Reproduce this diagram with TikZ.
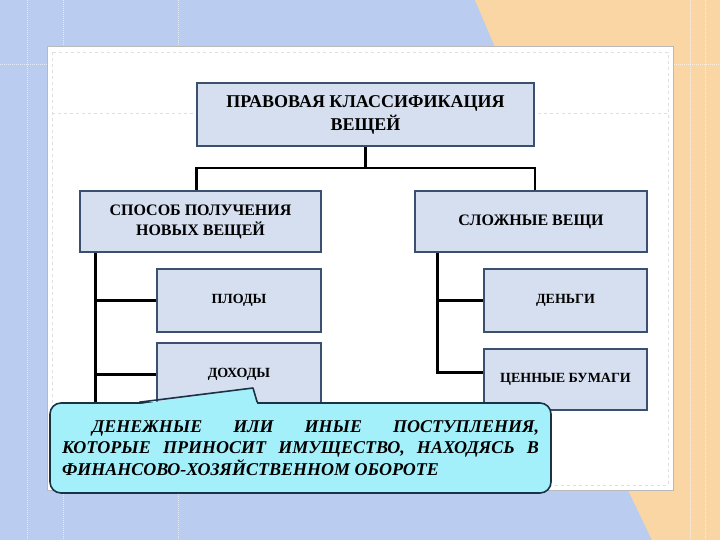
\documentclass[tikz,border=0pt]{standalone}
\usepackage{fontspec}
\setmainfont{Liberation Serif}
\definecolor{bgblue}{RGB}{186,205,240}
\definecolor{bgorange}{RGB}{250,214,164}
\definecolor{boxfill}{RGB}{214,223,240}
\definecolor{boxline}{RGB}{59,79,110}
\definecolor{notefill}{RGB}{164,240,250}
\definecolor{noteline}{RGB}{25,50,70}
\tikzset{
  cls/.style={draw=boxline, fill=boxfill, line width=1.6pt, align=center,
    font=\bfseries\fontsize{16}{20}\selectfont, inner sep=0pt},
  sub/.style={cls, font=\bfseries\fontsize{14}{16}\selectfont},
  link/.style={line width=2.6pt, black},
}
\begin{document}
\begin{tikzpicture}[x=1pt, y=-1pt]
  \useasboundingbox (0,0) rectangle (720,540);
  % Background
  \fill[bgblue] (0,0) rectangle (720,540);
  \fill[bgorange] (475,0) -- (720,0) -- (720,540) -- (652,540) -- (628,490) -- (495,47) -- cycle;
  \foreach \x in {27,63,178} \draw[white, opacity=0.6, densely dotted, line width=1pt] (\x,0) -- (\x,540);
  \foreach \x in {690,705} \draw[white, opacity=0.6, densely dotted, line width=1pt] (\x,0) -- (\x,540);
  \draw[white, opacity=0.6, densely dotted, line width=1pt] (0,65) -- (720,65);
  % Panel
  \filldraw[fill=white, draw=gray!55, line width=1pt] (47,47) rectangle (673,490);
  \draw[gray!25, dashed] (52,52) rectangle (668,485);
  \draw[gray!25, dashed] (52,113) -- (668,113);
  % Boxes
  \node[cls, minimum width=337, minimum height=63, font=\bfseries\fontsize{18}{23}\selectfont]
    (title) at (365.5,114.5) {ПРАВОВАЯ КЛАССИФИКАЦИЯ\\ВЕЩЕЙ};
  \node[cls, minimum width=241, minimum height=61] (way) at (200.5,221.5)
    {СПОСОБ ПОЛУЧЕНИЯ\\НОВЫХ ВЕЩЕЙ};
  \node[cls, minimum width=232, minimum height=61] (complex) at (531,221.5)
    {СЛОЖНЫЕ ВЕЩИ};
  \node[sub, minimum width=164, minimum height=63] (fruits) at (239,300.5) {ПЛОДЫ};
  \node[sub, minimum width=164, minimum height=63] (income) at (239,374.5) {ДОХОДЫ};
  \node[sub, minimum width=163, minimum height=63] (money) at (565.5,300.5) {ДЕНЬГИ};
  \node[sub, minimum width=163, minimum height=61] (papers) at (565.5,379.5) {ЦЕННЫЕ БУМАГИ};
  % Links
  \coordinate (bus) at (0,168);
  \coordinate (lsp) at ([xshift=16pt]way.south west);
  \coordinate (rsp) at ([xshift=23pt]complex.south west);
  \coordinate (lend) at (96,420);
  \draw[link] (title.south) -- (title.south |- bus);
  \draw[link] (title.west |- way.north) -- (title.west |- bus) -- (title.east |- bus) -- (title.east |- complex.north);
  \draw[link] (lsp) -- (lsp |- lend);
  \draw[link] (lsp |- fruits.west) -- (fruits.west);
  \draw[link] (lsp |- income.west) -- (income.west);
  \draw[link] (rsp) |- ([yshift=7pt]papers.west);
  \draw[link] (rsp |- money.west) -- (money.west);
  % Callout
  \node[draw=noteline, fill=notefill, line width=1.6pt, rounded corners=11pt,
    minimum width=501, minimum height=90, text width=477, inner xsep=12pt,
    align=justify, font=\bfseries\itshape\fontsize{18}{21.5}\selectfont] (note) at (300.5,448)
    {\hspace*{30pt}ДЕНЕЖНЫЕ ИЛИ ИНЫЕ ПОСТУПЛЕНИЯ,\linebreak
     КОТОРЫЕ ПРИНОСИТ ИМУЩЕСТВО, НАХОДЯСЬ В\linebreak
     ФИНАНСОВО-ХОЗЯЙСТВЕННОМ ОБОРОТЕ};
  \coordinate (tip) at (253,388);
  \fill[notefill] ([xshift=90pt, yshift=-2pt]note.north west) -- (tip) -- ([xshift=208pt, yshift=-2pt]note.north west) -- cycle;
  \draw[noteline, line width=1.6pt, line join=round] ([xshift=90pt]note.north west) -- (tip) -- ([xshift=208pt]note.north west);
\end{tikzpicture}
\end{document}
